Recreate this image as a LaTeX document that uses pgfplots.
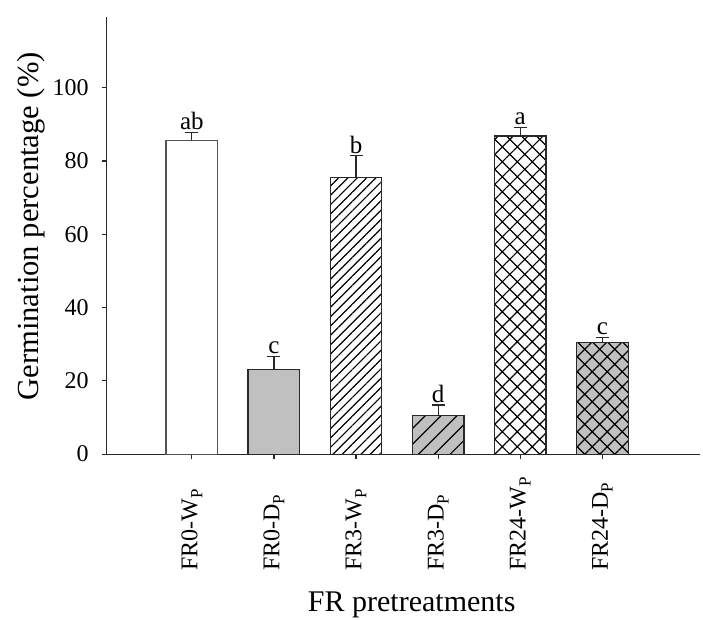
\documentclass[border=0pt]{standalone}
\usepackage{fontspec}
\setmainfont{Liberation Serif}
\usepackage{pgfplots}
\pgfplotsset{compat=1.18}
\usetikzlibrary{patterns.meta}
\definecolor{barg}{RGB}{192,192,192}
\definecolor{edge}{RGB}{40,40,40}
\newcommand{\sub}{\raisebox{-0.45ex}{\fontsize{8.5}{9}\selectfont P}}
\newlength\lw
\begin{document}%
\settowidth\lw{\fontsize{12}{14}\selectfont FR24-W\sub}%
\addtolength\lw{5.5pt}%
\begin{tikzpicture}
\begin{axis}[at={(0,0)}, anchor=south west, scale only axis,
  width=296.5pt, height=218.5pt,
  xmin=-1.035, xmax=6.19, ymin=0, ymax=119.3,
  axis lines=left, axis line style={-, edge, line width=0.6pt},
  tick style={edge, line width=0.6pt},
  tick align=outside, major tick length=2.6pt,
  ytick={0,20,40,60,80,100},
  xtick={0,1,2,3,4,5},
  xticklabels={\makebox[\lw][l]{FR0-W\sub},\makebox[\lw][l]{FR0-D\sub},\makebox[\lw][l]{FR3-W\sub},\makebox[\lw][l]{FR3-D\sub},\makebox[\lw][l]{FR24-W\sub},\makebox[\lw][l]{FR24-D\sub}},
  ticklabel style={font=\fontsize{12}{14}\selectfont},
  /pgf/number format/assume math mode=true,
  xticklabel style={rotate=90, anchor=east},
  yticklabel style={xshift=-3pt},
  every axis y label/.style={at={(axis description cs:-0.128,0.521)}, rotate=90, anchor=center, inner sep=0pt},
  every axis x label/.style={at={(axis description cs:0.514,0)}, anchor=base, yshift=-78.5pt, inner sep=0pt},
  ylabel={\fontsize{15.3}{17}\selectfont Germination percentage (\%)},
  xlabel={\fontsize{15}{17}\selectfont FR pretreatments},
  clip=false,
  every axis plot/.append style={line width=0.6pt},
  error bars/error bar style={edge, line width=0.6pt},
  error bars/error mark options={rotate=90, mark size=3.25pt, edge, line width=0.6pt},
]
\addplot[ybar, bar width=0.63, bar shift=0pt, fill=white, draw=edge!80,
  error bars/.cd, y dir=plus, y explicit] coordinates {(0,85.7) +- (0,2.1)};
\addplot[ybar, bar width=0.63, bar shift=0pt, fill=barg, draw=edge,
  error bars/.cd, y dir=plus, y explicit] coordinates {(1,23.2) +- (0,3.4)};
\addplot[ybar, bar width=0.63, bar shift=0pt, fill=white, draw=edge,
  postaction={pattern={Lines[angle=45,distance=3.3pt,line width=0.6pt]}},
  error bars/.cd, y dir=plus, y explicit] coordinates {(2,75.5) +- (0,5.9)};
\addplot[ybar, bar width=0.63, bar shift=0pt, fill=barg, draw=edge,
  postaction={pattern={Lines[angle=45,distance=5.6pt,line width=0.6pt]}},
  error bars/.cd, y dir=plus, y explicit] coordinates {(3,10.5) +- (0,2.9)};
\addplot[ybar, bar width=0.63, bar shift=0pt, fill=white, draw=edge,
  postaction={pattern={Hatch[angle=45,distance=5.3pt,line width=0.6pt]}},
  error bars/.cd, y dir=plus, y explicit] coordinates {(4,86.8) +- (0,2.4)};
\addplot[ybar, bar width=0.63, bar shift=0pt, fill=barg, draw=edge,
  postaction={pattern={Hatch[angle=45,distance=5.3pt,line width=0.6pt]}},
  error bars/.cd, y dir=plus, y explicit] coordinates {(5,30.5) +- (0,1.3)};
\addplot[draw=none, mark=none, nodes near coords, point meta=explicit symbolic,
  every node near coord/.append style={anchor=south, inner sep=1pt, black, font=\fontsize{12.5}{14}\selectfont}]
  coordinates {(0,87.8)[ab] (1,26.6)[c] (2,81.4)[b] (3,13.4)[d] (4,89.2)[a] (5,31.8)[c]};
\end{axis}
\pgfresetboundingbox
\useasboundingbox (-53.4pt,-82.5pt) rectangle (298pt,227pt);
\end{tikzpicture}%
\end{document}
